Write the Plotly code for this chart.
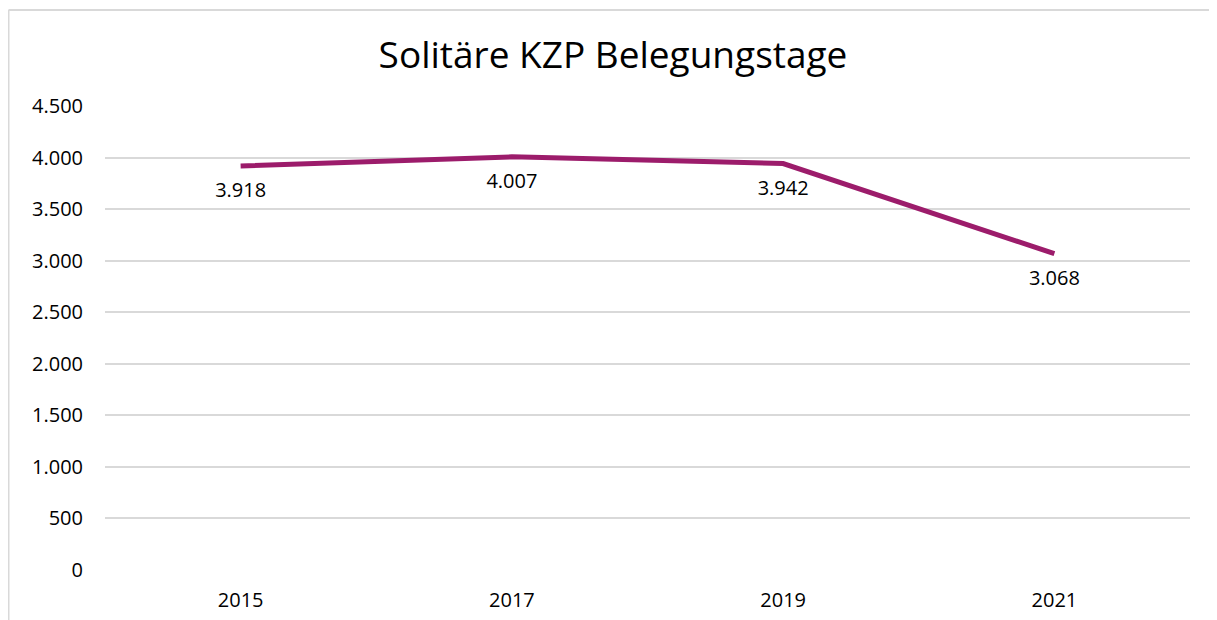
import plotly.graph_objects as go

years = ["2015", "2017", "2019", "2021"]
values = [3918, 4007, 3942, 3068]
labels = ["3.918", "4.007", "3.942", "3.068"]
yticks = [0, 500, 1000, 1500, 2000, 2500, 3000, 3500, 4000, 4500]
yticklabels = ["0", "500", "1.000", "1.500", "2.000", "2.500", "3.000", "3.500", "4.000", "4.500"]

# page has an 8px body margin; figure sized to fit the 1217x620 window
W, H = 1209, 612
L, R, T, B = 97, 27, 98, 50
pw, ph = W - L - R, H - T - B

fig = go.Figure()
fig.add_trace(go.Scatter(
    x=years, y=values, mode="lines+markers+text",
    line=dict(color="#9C1C6B", width=5),
    marker=dict(size=24, color="rgba(0,0,0,0)"),
    text=labels, textposition="bottom center",
    textfont=dict(size=20, color="#000000", family="Open Sans"),
    hoverinfo="skip", showlegend=False, cliponaxis=False,
))

fig.update_layout(
    width=W, height=H,
    margin=dict(l=L, r=R, t=T, b=B, autoexpand=False),
    paper_bgcolor="white", plot_bgcolor="white",
    font=dict(family="Open Sans", color="#000000"),
    title=dict(text="Solitäre KZP Belegungstage", x=(613 - 8) / W, xanchor="center",
               y=1 - 47 / H, yanchor="middle",
               font=dict(size=37, family="Open Sans", color="#000000")),
    xaxis=dict(type="category", showgrid=False, zeroline=False, showline=False, automargin=False,
               ticks="", tickfont=dict(size=20), range=[-0.5, 3.5], ticklabelstandoff=16),
    yaxis=dict(range=[0, 4500], tickvals=yticks, ticktext=yticklabels, automargin=False,
               showgrid=True, gridcolor="#D9D9D9", gridwidth=2, zeroline=False,
               showline=False, ticks="", tickfont=dict(size=20), ticklabelstandoff=21),
    shapes=[
        dict(type="line", xref="paper", yref="paper",
             x0=(0.5 - L) / pw, x1=(0.5 - L) / pw, y0=(H - B - 2) / ph, y1=(H - B - 640) / ph,
             line=dict(color="#D9D9D9", width=2)),
        dict(type="line", xref="paper", yref="paper",
             x0=(0.5 - L) / pw, x1=(1240 - L) / pw, y0=(H - B - 2) / ph, y1=(H - B - 2) / ph,
             line=dict(color="#D9D9D9", width=2)),
    ],
)

fig.write_html("out.html")
